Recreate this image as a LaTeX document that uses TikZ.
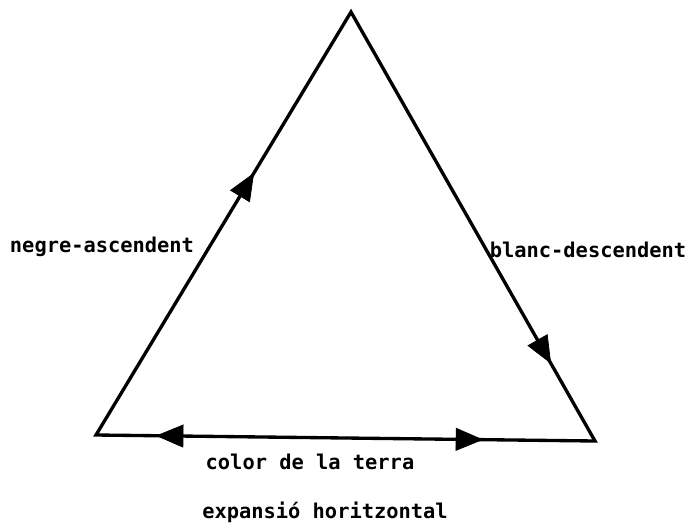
\documentclass[tikz,border=0pt]{standalone}
\usepackage{fontspec}
\setmonofont{DejaVu Sans Mono}
\usetikzlibrary{arrows.meta,decorations.markings}
\tikzset{
  side/.style={line width=1.9pt, line join=miter},
  lbl/.style={font=\ttfamily\bfseries\fontsize{11.6}{13}\selectfont, inner sep=0pt},
  markat/.style={postaction={decorate, decoration={markings, mark=at position #1 with {\arrow{Triangle[length=0.55cm,width=0.46cm]}}}}},
  markrev/.style={postaction={decorate, decoration={markings, mark=at position #1 with {\arrowreversed{Triangle[length=0.55cm,width=0.46cm]}}}}}
}
\begin{document}
\begin{tikzpicture}[x=0.02cm,y=-0.02cm]
\useasboundingbox (0,0) rectangle (689,524);
\coordinate (A) at (351,12);
\coordinate (B) at (96,435);
\coordinate (C) at (595,441);
\draw[side] (B) -- (A) -- (C) -- cycle;
\path[markat=0.62] (B) -- (A);
\path[markat=0.82] (A) -- (C);
\path[markrev=0.12, markat=0.776] (B) -- (C);
\node[lbl] (neg) at (102,247) {negre-ascendent};
\node[lbl] (bla) at (588,250) {blanc-descendent};
\node[lbl] (col) at (310,462) {color de la terra};
\node[lbl] (exp) at (325,512) {expansió horitzontal};
\end{tikzpicture}
\end{document}
